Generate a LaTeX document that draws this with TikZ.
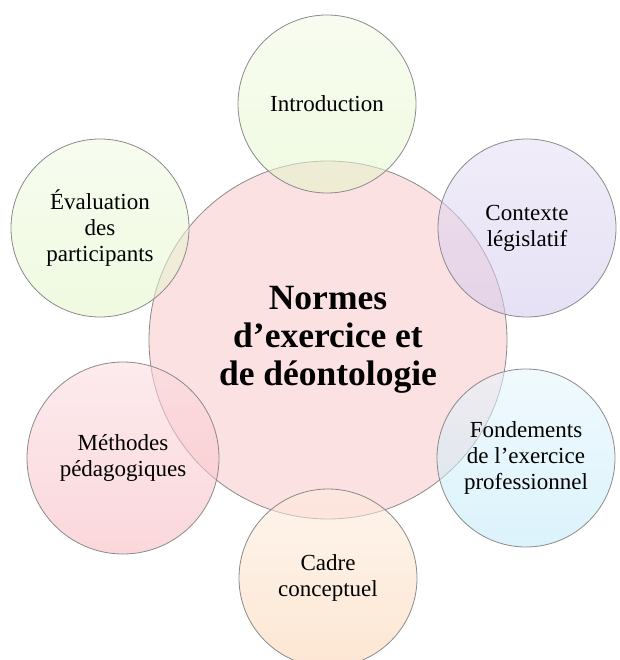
\documentclass[tikz,border=0pt]{standalone}
\usepackage{fontspec}
\setmainfont{Liberation Serif}
\usetikzlibrary{positioning}

% Colours of the bubbles
\definecolor{bubbleline}{HTML}{8A8A8A}
\definecolor{hubpink}{HTML}{FAC3C7}
\definecolor{introgreen}{HTML}{E4F6C8}
\definecolor{evalgreen}{HTML}{E2F5C6}
\definecolor{lawlilac}{HTML}{D2C8ED}
\definecolor{basisblue}{HTML}{BDE8F9}
\definecolor{framepeach}{HTML}{FBD2AE}
\definecolor{methodpink}{HTML}{F7B6BE}

\tikzset{
  bubble/.style={circle, draw=bubbleline, line width=0.8pt, minimum size=178pt,
    inner sep=0pt, align=center, fill opacity=0.55, text opacity=1,
    font=\fontsize{23}{26}\selectfont},
  hub/.style={circle, draw=bubbleline, line width=0.8pt, minimum size=358pt,
    inner sep=0pt, align=center, fill=hubpink, fill opacity=0.5, text opacity=1,
    font=\bfseries\fontsize{35.5}{38}\selectfont},
}

\begin{document}
\begin{tikzpicture}[x=1pt,y=-1pt]
  \useasboundingbox (0,0) rectangle (619,660);

  % Centre circle
  \node[hub] (normes) at (328,340) {Normes\\d’exercice et\\de déontologie};

  % Circles around it
  \node[bubble, top color=introgreen!50!white, bottom color=introgreen] (intro) at (327,104) {Introduction};
  \node[bubble, top color=lawlilac!60!white, bottom color=lawlilac] (contexte) at (527,228) {Contexte\\législatif};
  \node[bubble, top color=basisblue!40!white, bottom color=basisblue] (fondements) at (526,458) {Fondements\\de l’exercice\\professionnel};
  \node[bubble, top color=framepeach!40!white, bottom color=framepeach] (cadre) at (328,578) {Cadre\\conceptuel};
  \node[bubble, minimum size=192pt, top color=methodpink!50!white, bottom color=methodpink] (methodes) at (123,458) {Méthodes\\pédagogiques};
  \node[bubble, top color=evalgreen!50!white, bottom color=evalgreen] (evaluation) at (100,228) {Évaluation\\des\\participants};
\end{tikzpicture}
\end{document}
